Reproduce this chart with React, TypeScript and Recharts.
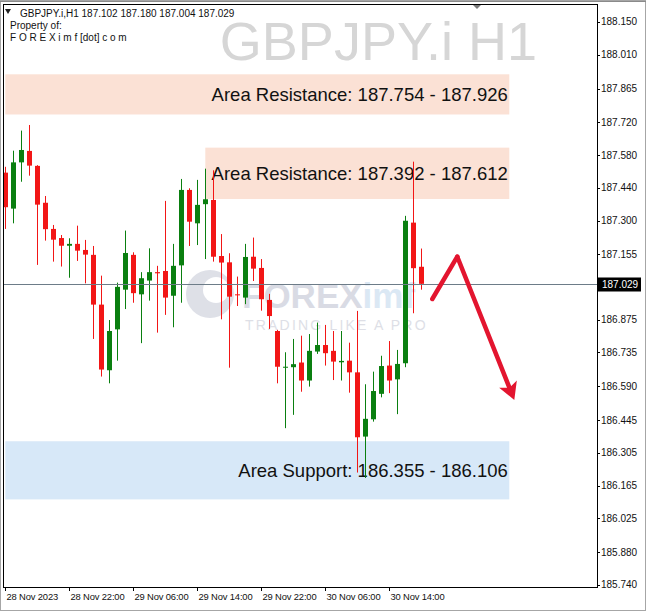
import React from "react";
import { ComposedChart, Bar, XAxis, YAxis, ReferenceArea, ReferenceLine } from "recharts";

// GBPJPY.i H1 candles, 28 Nov 14:00 -> 30 Nov 18:00
const opens = [
  187.505, 187.351, 187.549, 187.598, 187.534, 187.376, 187.264, 187.225, 187.192, 187.2,
  187.174, 187.153, 186.94, 186.659, 186.834, 187.004, 187.153, 186.984, 187.043, 187.079,
  187.084, 186.978, 187.108, 187.431, 187.288, 187.37, 187.388, 187.148, 187.121, 186.984,
  186.97, 187.145, 187.097, 186.96, 186.827, 186.672, 186.672, 186.692, 186.615, 186.739,
  186.767, 186.742, 186.693, 186.7, 186.65, 186.375, 186.449, 186.558, 186.679, 186.62,
  186.689, 187.291, 187.102,
];
const highs = [
  187.53, 187.599, 187.685, 187.709, 187.537, 187.405, 187.281, 187.238, 187.224, 187.278,
  187.217, 187.191, 187.064, 186.874, 187.034, 187.257, 187.164, 187.079, 187.181, 187.106,
  187.384, 187.2, 187.478, 187.438, 187.474, 187.522, 187.515, 187.242, 187.16, 187.06,
  187.2, 187.227, 187.135, 186.986, 186.832, 186.736, 186.793, 186.807, 186.814, 186.863,
  186.853, 186.827, 186.827, 186.777, 186.913, 186.599, 186.653, 186.721, 186.784, 186.746,
  187.32, 187.552, 187.18,
];
const lows = [
  187.264, 187.288, 187.466, 187.492, 187.11, 187.214, 187.124, 187.103, 187.055, 187.127,
  187.031, 186.793, 186.632, 186.603, 186.7, 186.921, 186.948, 186.775, 186.957, 186.82,
  186.896, 186.843, 186.948, 187.191, 187.195, 187.135, 187.124, 186.877, 186.67, 186.934,
  186.942, 187.041, 186.914, 186.836, 186.603, 186.411, 186.468, 186.567, 186.589, 186.729,
  186.679, 186.617, 186.615, 186.563, 186.221, 186.198, 186.439, 186.543, 186.561, 186.471,
  186.672, 186.903, 187.004,
];
const closes = [
  187.357, 187.549, 187.602, 187.535, 187.368, 187.263, 187.218, 187.192, 187.2, 187.171,
  187.154, 186.94, 186.662, 186.827, 187.016, 187.161, 186.989, 187.053, 187.079, 187.074,
  186.97, 187.106, 187.431, 187.295, 187.367, 187.391, 187.145, 187.12, 186.974, 186.98,
  187.144, 187.094, 186.963, 186.891, 186.674, 186.674, 186.685, 186.615, 186.742, 186.767,
  186.732, 186.696, 186.699, 186.65, 186.372, 186.451, 186.57, 186.677, 186.615, 186.686,
  187.299, 187.096, 187.029,
];

const dateTicks = [0, 8, 16, 24, 32, 40, 48];
const dateLabels = ["28 Nov 2023", "28 Nov 22:00", "29 Nov 06:00", "29 Nov 14:00", "29 Nov 22:00", "30 Nov 06:00", "30 Nov 14:00"];
const priceTicks = [
  188.15, 188.01, 187.865, 187.72, 187.58, 187.44, 187.3, 187.155, 186.875,
  186.735, 186.59, 186.445, 186.305, 186.165, 186.025, 185.88, 185.74,
];
const lastPrice = 187.029;

const zoneNames = ["Area Resistance", "Area Resistance", "Area Support"];
const zoneFrom = [187.754, 187.392, 186.355];
const zoneTo = [187.926, 187.612, 186.106];
const zoneStartBar = [0, 25, 0];
const zoneEndBar = [63, 63, 63];

// drawn forecast arrow (bar index, price)
const arrowBars = [53.375, 56.5, 63.625];
const arrowPrices = [186.964, 187.145, 186.532];

const candles = opens.map((o, i) => ({ i, o, h: highs[i], l: lows[i], c: closes[i], hl: [lows[i], highs[i]] }));

const UP = "#0a7f10";
const DOWN = "#f21616";
const ARROW = "#e3152f";
const FONT = '"Liberation Sans", Arial, sans-serif';
const small = { fontFamily: FONT, fontSize: 10, fill: "#111" };

function Candle(p: any) {
  const { x, y, width, height, payload } = p;
  if (!payload) return null;
  const top = Math.min(y, y + height);
  const span = Math.abs(height);
  const k = span / (payload.h - payload.l || 1);
  const cx = Math.round(x + width / 2) + 0.5;
  const b1 = top + (payload.h - Math.max(payload.o, payload.c)) * k;
  const b2 = top + (payload.h - Math.min(payload.o, payload.c)) * k;
  const col = payload.c >= payload.o ? UP : DOWN;
  return (
    <g>
      <line x1={cx} x2={cx} y1={top} y2={top + span} stroke={col} strokeWidth={1} />
      <rect x={cx - 2.5} y={b1} width={5} height={Math.max(1, b2 - b1)} fill={col} />
    </g>
  );
}

function PriceTick({ x, y, payload }: any) {
  return (
    <g>
      <line x1={x} x2={x + 3} y1={Math.round(y) + 0.5} y2={Math.round(y) + 0.5} stroke="#000" />
      <text x={x + 4} y={y} dy="0.35em" {...small}>{payload.value.toFixed(3)}</text>
    </g>
  );
}

function DateTick({ x, y, payload }: any) {
  const px = Math.round(x) + 0.5;
  return (
    <g>
      <line x1={px} x2={px} y1={y} y2={y + 4} stroke="#000" />
      <text x={px + 1} y={y + 13} {...small} fontSize={9.4} letterSpacing={-0.15}>
        {dateLabels[dateTicks.indexOf(payload.value)]}
      </text>
    </g>
  );
}

function Zone(p: any) {
  const { x, y, width, height, label, fill } = p;
  return (
    <g>
      <rect x={x} y={y} width={width} height={height} fill={fill} />
      <text x={x + width - 1.5} y={y + height / 2} dy="0.36em" textAnchor="end" fontFamily={FONT} fontSize={18.5} fill="#111">
        {label}
      </text>
    </g>
  );
}

function PriceLine(p: any) {
  const { x1, y1, x2 } = p;
  const yy = Math.round(y1) + 0.5;
  const left = Math.min(x1, x2);
  const right = Math.max(x1, x2);
  return (
    <g>
      <line x1={left} x2={right} y1={yy} y2={yy} stroke="#6d7c88" strokeWidth={1} />
      <rect x={right + 1} y={yy - 7} width={43} height={14} fill="#000" />
      <text x={right + 5} y={yy} dy="0.35em" fontFamily={FONT} fontSize={10} fill="#fff">{lastPrice.toFixed(3)}</text>
    </g>
  );
}

function ArrowSeg(p: any) {
  const { x1, y1, x2, y2, head } = p;
  if (!head) {
    return <line x1={x1} y1={y1} x2={x2} y2={y2} stroke={ARROW} strokeWidth={4.5} strokeLinecap="round" />;
  }
  const dx = x2 - x1;
  const dy = y2 - y1;
  const len = Math.sqrt(dx * dx + dy * dy);
  const ux = dx / len;
  const uy = dy / len;
  const bx = x2 - 17 * ux;
  const by = y2 - 17 * uy;
  const nx = bx + 4 * ux;
  const ny = by + 4 * uy;
  const pts = [
    [x2, y2],
    [bx - 9.5 * uy, by + 9.5 * ux],
    [nx, ny],
    [bx + 9.5 * uy, by - 9.5 * ux],
  ];
  return (
    <g>
      <line x1={x1} y1={y1} x2={nx} y2={ny} stroke={ARROW} strokeWidth={4.5} strokeLinecap="round" />
      <polygon points={pts.map((q) => q.join(",")).join(" ")} fill={ARROW} />
    </g>
  );
}

export default function App() {
  return (
    <div style={{ position: "absolute", left: 0, top: 0, width: 646, height: 611, background: "#fff", overflow: "hidden" }}>
      <svg width={646} height={611} style={{ position: "absolute", left: 0, top: 0 }}>
        <text x={537} y={60} textAnchor="end" fontFamily={FONT} fontSize={54} fill="#d6d6d6">GBPJPY.i H1</text>
        <g opacity={0.75}>
          <circle cx={210} cy={294} r={24} fill="#d3d6e0" />
          <circle cx={216} cy={290} r={13} fill="#fff" />
          <text x={242} y={308} fontFamily={FONT} fontWeight="bold" fontSize={35} fill="#cdd0dc">
            FOREX<tspan fill="#cfe1f1">imf</tspan>
          </text>
          <text x={245} y={330} fontFamily={FONT} fontSize={14} letterSpacing={2.2} fill="#d3d5de">TRADING LIKE A PRO</text>
        </g>
      </svg>
      <div style={{ position: "absolute", left: 0, top: 0 }}>
        <ComposedChart width={646} height={611} data={candles} margin={{ top: 4, right: 0, bottom: 0, left: 3 }}>
          <XAxis
            dataKey="i"
            type="number"
            domain={[-0.2875, 73.9625]}
            allowDataOverflow
            ticks={dateTicks}
            interval={0}
            height={24}
            axisLine={false}
            tickLine={false}
            tickSize={0}
            tickMargin={0}
            tick={<DateTick />}
          />
          <YAxis
            orientation="right"
            type="number"
            domain={[185.731, 188.227]}
            allowDataOverflow
            ticks={priceTicks}
            interval={0}
            width={49}
            axisLine={false}
            tickLine={false}
            tickSize={0}
            tickMargin={0}
            tick={<PriceTick />}
          />
          {zoneNames.map((n, k) => (
            <ReferenceArea
              key={k}
              x1={zoneStartBar[k]}
              x2={zoneEndBar[k]}
              y1={zoneFrom[k]}
              y2={zoneTo[k]}
              ifOverflow="visible"
              shape={(p: any) => (
                <Zone
                  {...p}
                  fill={n === "Area Support" ? "#d7e8f8" : "#fbe1d5"}
                  label={`${n}: ${zoneFrom[k].toFixed(3)} - ${zoneTo[k].toFixed(3)}`}
                />
              )}
            />
          ))}
          <ReferenceLine y={lastPrice} shape={(p: any) => <PriceLine {...p} />} />
          <Bar dataKey="hl" barSize={5} shape={(p: any) => <Candle {...p} />} isAnimationActive={false} />
          <ReferenceLine
            segment={[{ x: arrowBars[0], y: arrowPrices[0] }, { x: arrowBars[1], y: arrowPrices[1] }]}
            shape={(p: any) => <ArrowSeg {...p} />}
          />
          <ReferenceLine
            segment={[{ x: arrowBars[1], y: arrowPrices[1] }, { x: arrowBars[2], y: arrowPrices[2] }]}
            shape={(p: any) => <ArrowSeg {...p} head />}
          />
        </ComposedChart>
      </div>
      <svg width={646} height={611} style={{ position: "absolute", left: 0, top: 0, pointerEvents: "none" }}>
        <rect x={0.5} y={0.5} width={645} height={610} fill="none" stroke="#a6a6a6" />
        <line x1={0} x2={646} y1={1.5} y2={1.5} stroke="#8a8a8a" />
        <rect x={3.5} y={4.5} width={594} height={583} fill="none" stroke="#000" />
        <polygon points="473,5 481,5 477,9" fill="#7a7a7a" />
        <polygon points="5,9 11,9 8,14" fill="#222" />
        <text x={20} y={17} {...small}>GBPJPY.i,H1  187.102 187.180 187.004 187.029</text>
        <text x={10} y={29} {...small}>Property of:</text>
        <text x={10} y={41} {...small}>F O R E X i m f [dot] c o m</text>
      </svg>
    </div>
  );
}
